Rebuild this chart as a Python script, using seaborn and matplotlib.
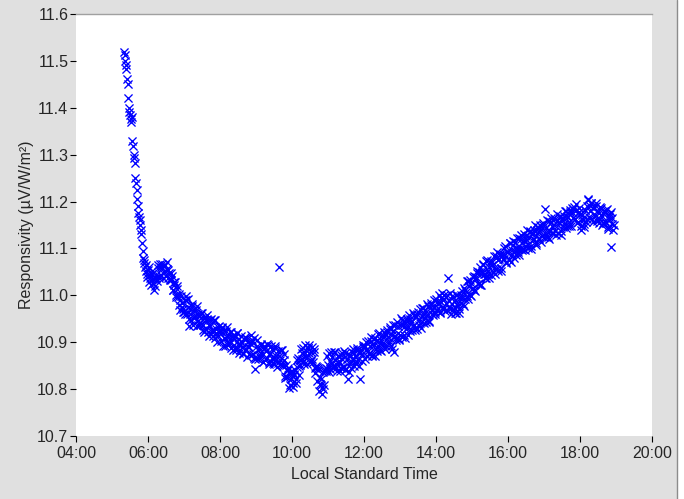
import numpy as np
import pandas as pd
import matplotlib
matplotlib.use("Agg")
import matplotlib.pyplot as plt
from matplotlib.patches import Rectangle
from matplotlib.lines import Line2D
import seaborn as sns

# ---- data ----
# steep start (minutes after 05:00)
early_min = [20, 21, 22, 23, 24, 25, 26, 27, 28, 29, 30, 31, 32, 33, 34, 35, 36, 37, 38, 39,
             40, 41, 42, 43, 44, 45, 46, 47, 48, 49, 50, 51, 52, 53, 54, 55, 56, 57, 58, 59]
early_resp = [11.520, 11.512, 11.500, 11.492, 11.482, 11.462, 11.450, 11.420, 11.400, 11.392,
              11.385, 11.375, 11.370, 11.380, 11.330, 11.318, 11.300, 11.292, 11.283, 11.250,
              11.240, 11.225, 11.205, 11.190, 11.175, 11.168, 11.160, 11.150, 11.140, 11.130,
              11.112, 11.095, 11.080, 11.070, 11.075, 11.060, 11.052, 11.065, 11.045, 11.040]

# rest of the day: even minutes and odd minutes of each hour
even_min = [0, 2, 4, 6, 8, 10, 12, 14, 16, 18, 20, 22, 24, 26, 28,
            30, 32, 34, 36, 38, 40, 42, 44, 46, 48, 50, 52, 54, 56, 58]
odd_min = [1, 3, 5, 7, 9, 11, 13, 15, 17, 19, 21, 23, 25, 27, 29,
           31, 33, 35, 37, 39, 41, 43, 45, 47, 49, 51, 53, 55, 57, 59]

resp_06 = [11.055, 11.028, 11.043, 11.052, 11.026, 11.012, 11.038, 11.036, 11.058, 11.042,
           11.066, 11.043, 11.058, 11.050, 11.065, 11.042, 11.056, 11.053, 11.032, 11.032,
           11.042, 11.011, 11.023, 10.996, 11.013, 10.996, 11.003, 10.969, 10.983, 10.971]
resp_06_odd = [11.061, 11.037, 11.022, 11.046, 11.034, 11.019, 11.044, 11.030, 11.064, 11.038,
               11.060, 11.067, 11.037, 11.063, 11.052, 11.071, 11.037, 11.048, 11.034, 11.048,
               11.012, 11.028, 11.028, 11.000, 11.019, 10.980, 10.990, 10.999, 10.975, 10.964]
resp_07 = [10.965, 10.989, 10.998, 10.975, 10.935, 10.961, 10.947, 10.981, 10.951, 10.959,
           10.969, 10.935, 10.961, 10.937, 10.951, 10.963, 10.937, 10.921, 10.948, 10.950,
           10.922, 10.936, 10.948, 10.921, 10.927, 10.947, 10.909, 10.929, 10.913, 10.934]
resp_07_odd = [10.961, 10.991, 10.961, 10.993, 10.949, 10.971, 10.977, 10.937, 10.969, 10.953,
               10.977, 10.937, 10.955, 10.941, 10.963, 10.925, 10.951, 10.953, 10.928, 10.958,
               10.914, 10.934, 10.950, 10.925, 10.913, 10.947, 10.919, 10.901, 10.933, 10.922]
resp_08 = [10.924, 10.902, 10.933, 10.910, 10.892, 10.923, 10.912, 10.898, 10.922, 10.887,
           10.912, 10.916, 10.895, 10.884, 10.919, 10.896, 10.907, 10.884, 10.899, 10.874,
           10.906, 10.883, 10.908, 10.889, 10.874, 10.899, 10.916, 10.901, 10.866, 10.843]
resp_08_odd = [10.924, 10.930, 10.891, 10.924, 10.908, 10.933, 10.894, 10.912, 10.898, 10.921,
               10.884, 10.910, 10.913, 10.888, 10.919, 10.876, 10.897, 10.914, 10.889, 10.878,
               10.912, 10.885, 10.868, 10.901, 10.890, 10.873, 10.904, 10.875, 10.908, 10.865]
resp_09 = [10.866, 10.891, 10.883, 10.868, 10.897, 10.872, 10.858, 10.891, 10.882, 10.866,
           10.895, 10.858, 10.878, 10.885, 10.864, 10.854, 10.887, 10.870, 10.855, 11.060,
           10.863, 10.884, 10.852, 10.863, 10.829, 10.852, 10.826, 10.840, 10.808, 10.831]
resp_09_odd = [10.904, 10.865, 10.885, 10.872, 10.895, 10.858, 10.886, 10.889, 10.864, 10.896,
               10.853, 10.874, 10.892, 10.867, 10.856, 10.892, 10.865, 10.848, 10.881, 10.870,
               10.853, 10.884, 10.850, 10.874, 10.824, 10.841, 10.844, 10.803, 10.836, 10.821]
resp_10 = [10.839, 10.812, 10.830, 10.812, 10.848, 10.866, 10.850, 10.852, 10.876, 10.888,
           10.854, 10.877, 10.866, 10.888, 10.895, 10.858, 10.880, 10.865, 10.879, 10.846,
           10.850, 10.818, 10.841, 10.811, 10.822, 10.790, 10.800, 10.838, 10.846, 10.842]
resp_10_odd = [10.805, 10.833, 10.840, 10.822, 10.863, 10.831, 10.862, 10.886, 10.865, 10.857,
               10.895, 10.870, 10.854, 10.888, 10.877, 10.859, 10.889, 10.857, 10.886, 10.835,
               10.848, 10.844, 10.797, 10.825, 10.808, 10.837, 10.808, 10.840, 10.839, 10.871]
resp_11 = [10.852, 10.876, 10.843, 10.869, 10.849, 10.880, 10.862, 10.846, 10.871, 10.855,
           10.838, 10.872, 10.864, 10.848, 10.876, 10.843, 10.864, 10.822, 10.854, 10.845,
           10.880, 10.863, 10.878, 10.853, 10.888, 10.863, 10.878, 10.822, 10.875, 10.889]
resp_11_odd = [10.836, 10.860, 10.879, 10.855, 10.845, 10.880, 10.854, 10.838, 10.871, 10.861,
               10.844, 10.876, 10.848, 10.882, 10.840, 10.865, 10.874, 10.837, 10.872, 10.859,
               10.886, 10.849, 10.870, 10.859, 10.884, 10.849, 10.878, 10.884, 10.861, 10.895]
resp_12 = [10.890, 10.865, 10.901, 10.882, 10.874, 10.893, 10.903, 10.870, 10.895, 10.909,
           10.886, 10.882, 10.917, 10.899, 10.882, 10.914, 10.898, 10.913, 10.893, 10.927,
           10.912, 10.902, 10.928, 10.886, 10.923, 10.880, 10.936, 10.910, 10.934, 10.907]
resp_12_odd = [10.893, 10.884, 10.870, 10.903, 10.877, 10.912, 10.872, 10.897, 10.906, 10.870,
               10.905, 10.893, 10.920, 10.884, 10.905, 10.895, 10.921, 10.886, 10.916, 10.922,
               10.899, 10.933, 10.893, 10.916, 10.936, 10.914, 10.905, 10.943, 10.919, 10.904]
resp_13 = [10.915, 10.936, 10.948, 10.915, 10.934, 10.928, 10.949, 10.916, 10.950, 10.943,
           10.927, 10.962, 10.936, 10.955, 10.929, 10.964, 10.948, 10.940, 10.972, 10.961,
           10.941, 10.969, 10.957, 10.977, 10.945, 10.974, 10.984, 10.960, 10.974, 10.960]
resp_13_odd = [10.952, 10.911, 10.937, 10.946, 10.909, 10.945, 10.932, 10.959, 10.923, 10.944,
               10.934, 10.959, 10.925, 10.954, 10.960, 10.937, 10.971, 10.931, 10.955, 10.974,
               10.952, 10.944, 10.982, 10.958, 10.944, 10.979, 10.971, 10.957, 10.991, 10.965]
resp_14 = [10.992, 10.968, 10.983, 10.963, 10.994, 11.004, 10.971, 10.993, 10.984, 10.968,
           11.037, 10.987, 10.971, 10.999, 10.971, 10.988, 10.963, 11.001, 10.983, 10.971,
           10.995, 10.984, 11.009, 10.978, 11.012, 11.008, 10.998, 11.030, 11.000, 11.026]
resp_14_odd = [10.986, 10.974, 11.001, 10.965, 10.986, 10.976, 11.001, 10.967, 10.996, 11.000,
               10.975, 11.005, 10.961, 10.981, 10.997, 10.972, 10.963, 11.001, 10.977, 10.963,
               11.001, 10.994, 10.981, 11.016, 10.992, 11.030, 10.992, 11.020, 11.032, 10.998]
resp_15 = [11.014, 11.039, 11.012, 11.035, 11.052, 11.025, 11.050, 11.023, 11.052, 11.064,
           11.046, 11.038, 11.074, 11.046, 11.060, 11.072, 11.044, 11.071, 11.059, 11.046,
           11.084, 11.057, 11.075, 11.087, 11.059, 11.087, 11.078, 11.100, 11.071, 11.093]
resp_15_odd = [11.015, 11.042, 11.009, 11.040, 11.047, 11.026, 11.061, 11.022, 11.047, 11.067,
               11.045, 11.037, 11.075, 11.051, 11.037, 11.073, 11.065, 11.050, 11.084, 11.057,
               11.093, 11.052, 11.078, 11.088, 11.052, 11.088, 11.077, 11.105, 11.070, 11.092]
resp_16 = [11.093, 11.075, 11.111, 11.089, 11.107, 11.079, 11.114, 11.102, 11.092, 11.122,
           11.099, 11.129, 11.097, 11.118, 11.096, 11.127, 11.119, 11.108, 11.138, 11.105,
           11.131, 11.120, 11.140, 11.107, 11.139, 11.146, 11.120, 11.137, 11.127, 11.155]
resp_16_odd = [11.078, 11.112, 11.072, 11.096, 11.116, 11.094, 11.085, 11.123, 11.099, 11.085,
               11.120, 11.112, 11.098, 11.131, 11.105, 11.140, 11.100, 11.125, 11.135, 11.098,
               11.134, 11.121, 11.149, 11.112, 11.134, 11.123, 11.149, 11.114, 11.144, 11.150]
resp_17 = [11.125, 11.184, 11.143, 11.124, 11.159, 11.138, 11.165, 11.134, 11.151, 11.162,
           11.129, 11.158, 11.149, 11.170, 11.137, 11.161, 11.146, 11.170, 11.180, 11.148,
           11.166, 11.148, 11.178, 11.186, 11.164, 11.188, 11.163, 11.182, 11.156, 11.186]
resp_17_odd = [11.133, 11.124, 11.161, 11.136, 11.121, 11.156, 11.147, 11.132, 11.165, 11.138,
               11.173, 11.132, 11.157, 11.166, 11.129, 11.165, 11.152, 11.180, 11.144, 11.166,
               11.156, 11.182, 11.148, 11.178, 11.184, 11.162, 11.195, 11.154, 11.176, 11.178]
resp_18 = [11.174, 11.148, 11.162, 11.152, 11.181, 11.156, 11.190, 11.205, 11.179, 11.196,
           11.162, 11.186, 11.174, 11.191, 11.162, 11.178, 11.155, 11.188, 11.169, 11.154,
           11.179, 11.158, 11.181, 11.146, 11.166, 11.174, 11.103, 11.164, 11.150, None]
resp_18_odd = [11.140, 11.172, 11.160, 11.146, 11.183, 11.162, 11.204, 11.167, 11.191, 11.196,
               11.156, 11.188, 11.172, 11.197, 11.158, 11.176, 11.163, 11.186, 11.149, 11.176,
               11.179, 11.154, 11.185, 11.142, 11.162, 11.178, 11.152, 11.140, None, None]

hours = [6, 7, 8, 9, 10, 11, 12, 13, 14, 15, 16, 17, 18]
even_lists = [resp_06, resp_07, resp_08, resp_09, resp_10, resp_11, resp_12,
              resp_13, resp_14, resp_15, resp_16, resp_17, resp_18]
odd_lists = [resp_06_odd, resp_07_odd, resp_08_odd, resp_09_odd, resp_10_odd, resp_11_odd,
             resp_12_odd, resp_13_odd, resp_14_odd, resp_15_odd, resp_16_odd, resp_17_odd,
             resp_18_odd]

x_ticks = [4, 6, 8, 10, 12, 14, 16, 18, 20]
x_tick_labels = ["04:00", "06:00", "08:00", "10:00", "12:00", "14:00", "16:00", "18:00", "20:00"]
y_ticks = [10.7, 10.8, 10.9, 11.0, 11.1, 11.2, 11.3, 11.4, 11.5, 11.6]

# ---- build table (decimal hours) ----
rows = [(5 + m / 60.0, v) for m, v in zip(early_min, early_resp)]
for hr, ev, od in zip(hours, even_lists, odd_lists):
    rows += [(hr + m / 60.0, v) for m, v in zip(even_min, ev) if v is not None]
    rows += [(hr + m / 60.0, v) for m, v in zip(odd_min, od) if v is not None]
df = pd.DataFrame(rows, columns=["hour", "resp"]).sort_values("hour")

# ---- plot ----
sns.set_style("white")
plt.rcParams["font.family"] = ["Liberation Sans", "DejaVu Sans"]

fig = plt.figure(figsize=(6.84, 4.99), dpi=100)
fig.patch.set_facecolor("white")
# grey panel behind the plot, with its darker right border
fig.add_artist(Rectangle((0, 0), 676.5 / 684, 1, transform=fig.transFigure,
                         facecolor="#e0e0e0", edgecolor="none", zorder=-2))
fig.add_artist(Line2D([676.5 / 684, 676.5 / 684], [0, 1], transform=fig.transFigure,
                      color="#8c8c8c", lw=1.0, zorder=-1))

ax = fig.add_axes([76 / 684, 63 / 499, 576 / 684, 422 / 499])
ax.set_facecolor("white")

sns.scatterplot(data=df, x="hour", y="resp", marker="x", color="#0000ff",
                s=34, linewidth=0.95, ax=ax, legend=False)

ax.set_xlim(4, 20)
ax.set_ylim(10.7, 11.6)
ax.set_xticks(x_ticks)
ax.set_xticklabels(x_tick_labels)
ax.set_yticks(y_ticks)
ax.set_yticklabels([f"{v:.1f}" for v in y_ticks])

for side in ["left", "bottom", "right"]:
    ax.spines[side].set_visible(False)
ax.spines["top"].set_color("#a0a0a0")
ax.spines["top"].set_linewidth(1.0)

ax.tick_params(axis="both", which="major", direction="out", length=4.5, width=0.8,
               color="black", labelsize=11.5, left=True, bottom=True)
ax.tick_params(axis="y", pad=1)
ax.tick_params(axis="x", pad=3)

ax.set_xlabel("Local Standard Time", fontsize=11.5, labelpad=4)
ax.set_ylabel("Responsivity (µV/W/m²)", fontsize=11.5, labelpad=2)

fig.savefig("out.png", dpi=100, facecolor=fig.get_facecolor())
